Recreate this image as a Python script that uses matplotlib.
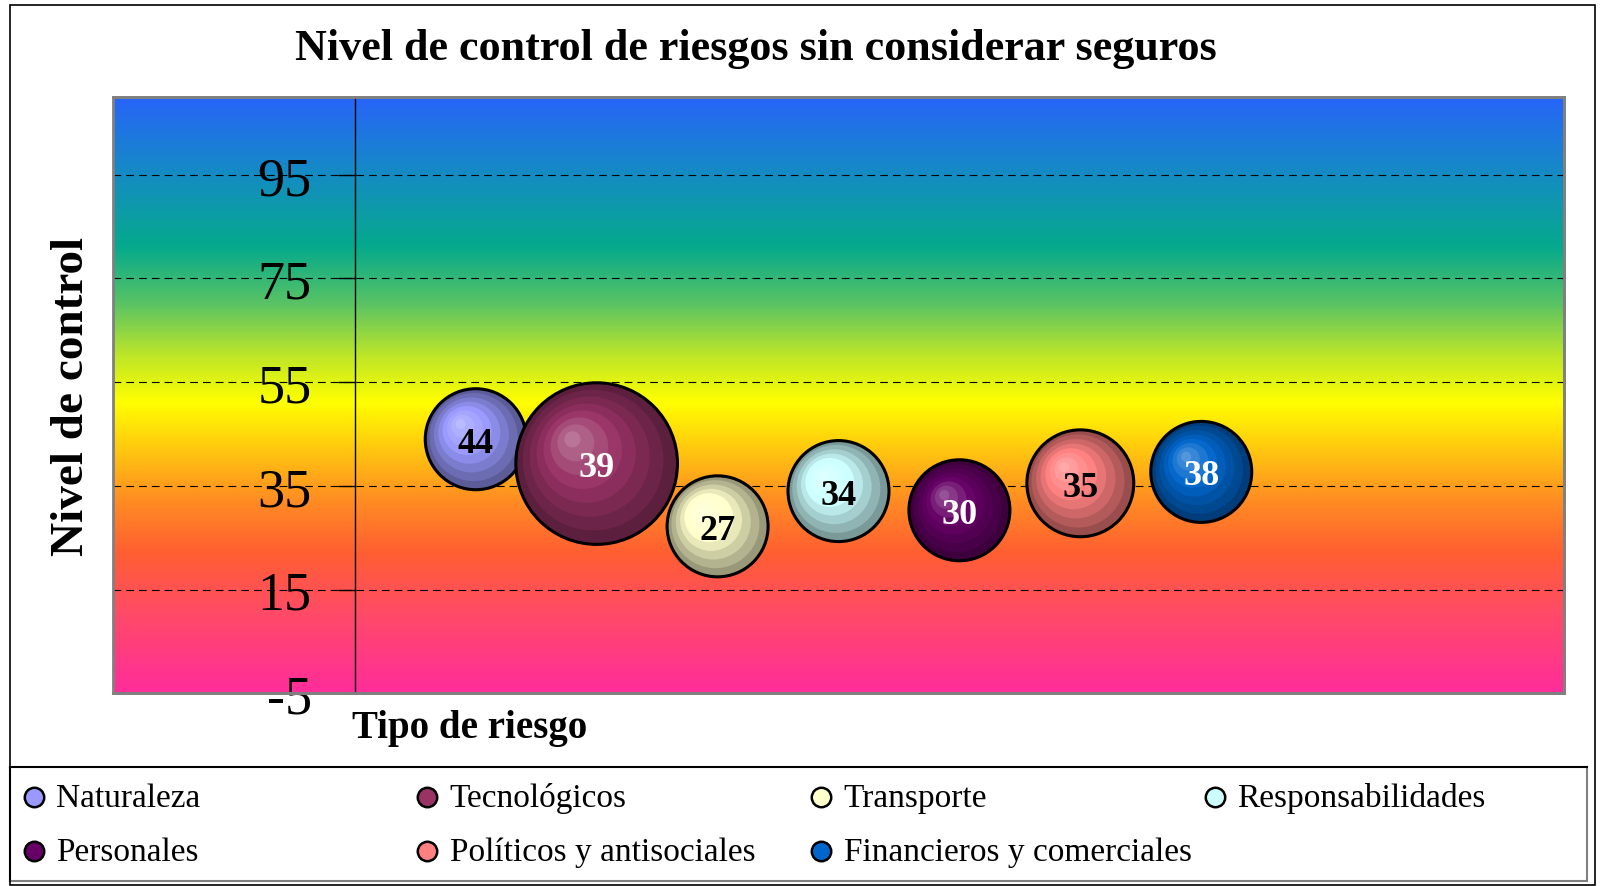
import numpy as np
import matplotlib
matplotlib.use("Agg")
import matplotlib.pyplot as plt
from matplotlib.colors import LinearSegmentedColormap, to_rgb
from matplotlib.patches import Rectangle
from matplotlib.transforms import ScaledTranslation

plt.rcParams["font.family"] = ["Liberation Serif", "DejaVu Serif"]
plt.rcParams["axes.unicode_minus"] = False

# --- data ---
categories = ["Naturaleza", "Tecnológicos", "Transporte", "Responsabilidades",
              "Personales", "Políticos y antisociales", "Financieros y comerciales"]
x_pos = [1, 2, 3, 4, 5, 6, 7]
control = [44, 39.3, 27.2, 34, 30.3, 35.5, 37.7]
labels = [44, 39, 27, 34, 30, 35, 38]
bubble_size = [25, 64, 25, 25, 25, 28, 25]
colors = ["#9999FF", "#993366", "#FFFFCC", "#CCFFFF", "#660066", "#FF8080", "#0066CC"]
label_colors = ["black", "white", "black", "black", "white", "black", "white"]
yticks = [-5, 15, 35, 55, 75, 95]

# background gradient (value, colour)
grad_stops = [(-5, "#FF2D9B"), (10, "#FF4A68"), (22, "#FF5F32"), (32, "#FF8C23"),
              (42, "#FFC80F"), (51, "#FFFF00"), (60, "#BEE628"), (70, "#5AC364"),
              (81, "#05AA8C"), (95, "#148CC3"), (110, "#2864FA")]

fig = plt.figure(figsize=(16, 8.87), dpi=100)
W, H = 1600, 887

# outer frame
fig.patches.append(Rectangle((10 / W, 1 / H), 1585 / W, 880 / H, transform=fig.transFigure,
                             fill=False, edgecolor="black", lw=1.2))

ax = fig.add_axes([113 / W, 1 - 694.3 / H, (1564 - 113) / W, (694.3 - 98) / H])
ymin, ymax = -5, 110
ax.set_xlim(-2, 10)
ax.set_ylim(ymin, ymax)

cmap = LinearSegmentedColormap.from_list(
    "bg", [((v - ymin) / (ymax - ymin), c) for v, c in grad_stops])
grad = np.linspace(0, 1, 512).reshape(-1, 1)
ax.imshow(grad, cmap=cmap, aspect="auto", origin="lower",
          extent=(-2, 10, ymin, ymax), zorder=0, interpolation="bilinear")

ax.set_yticks(yticks)
ax.set_xticks([])
ax.grid(axis="y", color="black", linestyle=(0, (7, 4.5)), lw=0.8)
ax.set_axisbelow(True)
ax.tick_params(axis="y", direction="out", length=12, width=1, pad=19, labelsize=39,
               color="black")
ax.spines["left"].set_position(("data", 0))
ax.spines["left"].set_color("black")
ax.spines["left"].set_linewidth(1)
for s in ["top", "right", "bottom"]:
    ax.spines[s].set_color("#808080")
    ax.spines[s].set_linewidth(2)
ax.add_patch(Rectangle((0, 0), 1, 1, transform=ax.transAxes, fill=False,
                       edgecolor="#808080", lw=2, zorder=2, clip_on=False))

# bubbles with sphere shading (banded rings like the original)
r_ref_pt = 50.5 * 0.72
n_rings = 8
for i in range(len(categories)):
    base = np.array(to_rgb(colors[i]))
    dark = base * 0.6
    light = base + (1 - base) * 0.32
    R = r_ref_pt * np.sqrt(bubble_size[i] / 25)
    z = 3 + i * 0.1
    for k in range(n_rings):
        t = k / (n_rings - 1)
        if t < 0.55:
            c = dark + (base - dark) * (t / 0.55)
        else:
            c = base + (light - base) * ((t - 0.55) / 0.45)
        d = 2 * R * (1 - 0.9 * t)
        off = 0.3 * R * t
        tr = ax.transData + ScaledTranslation(-off / 72, off / 72, fig.dpi_scale_trans)
        ax.scatter([x_pos[i]], [control[i]], s=d ** 2, color=[c], edgecolors="none",
                   transform=tr, zorder=z)
    ax.scatter([x_pos[i]], [control[i]], s=(2 * R) ** 2, facecolors="none",
               edgecolors="black", linewidths=2.2, zorder=z + 0.05)
    ax.text(x_pos[i], control[i], str(labels[i]), ha="center", va="center_baseline",
            fontsize=26, fontweight="bold", color=label_colors[i], zorder=10)

# titles
fig.text(756 / W, 1 - 60 / H, "Nivel de control de riesgos sin considerar seguros",
         ha="center", va="baseline", fontsize=31.8, fontweight="bold")
fig.text(352 / W, 1 - 738 / H, "Tipo de riesgo", ha="left", va="baseline",
         fontsize=28, fontweight="bold")
fig.text(83 / W, 1 - 397 / H, "Nivel de control", rotation=90, rotation_mode="anchor",
         ha="center", va="baseline", fontsize=34, fontweight="bold")

# legend box
lax = fig.add_axes([10 / W, 1 - 882 / H, 1577 / W, 114 / H])
lax.set_xlim(0, 1)
lax.set_ylim(0, 1)
lax.set_xticks([])
lax.set_yticks([])
lax.set_facecolor("none")
lax.spines["top"].set_color("black")
lax.spines["left"].set_color("black")
lax.spines["bottom"].set_color("#808080")
lax.spines["right"].set_color("#808080")
for s in lax.spines.values():
    s.set_linewidth(1.5)
row_marker = [0.739, 0.266]
row_text = [0.661, 0.184]
for i, name in enumerate(categories):
    col, row = i % 4, i // 4
    mx = 23.5 / 1577 + col * 0.2497
    lax.plot([mx], [row_marker[row]], "o", ms=14, mfc=colors[i], mec="black", mew=1.8)
    lax.text(mx + 22.5 / 1577, row_text[row], name, ha="left", va="baseline", fontsize=24)

fig.savefig("out.png", dpi=100)
